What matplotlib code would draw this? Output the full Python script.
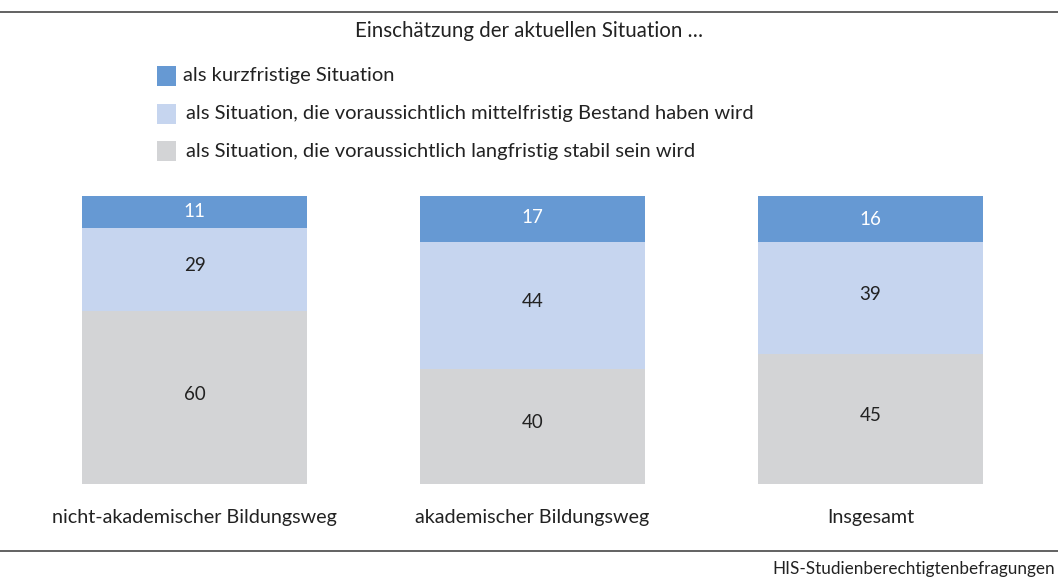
import matplotlib
matplotlib.use("Agg")
from matplotlib import pyplot as plt
from matplotlib.lines import Line2D
from matplotlib.patches import Rectangle

plt.rcParams['font.family'] = ['Lato', 'DejaVu Sans']

gruppen = ['nicht-akademischer Bildungsweg', 'akademischer Bildungsweg', 'Insgesamt']
kurz = [11, 17, 16]
mittel = [29, 44, 39]
lang = [60, 40, 45]
serien = ['als kurzfristige Situation',
          'als Situation, die voraussichtlich mittelfristig Bestand haben wird',
          'als Situation, die voraussichtlich langfristig stabil sein wird']
farben = ['#6699d3', '#c6d5ef', '#d3d4d6']
textfarben = ['white', '#222222', '#222222']

W, H = 1058, 578
fig = plt.figure(figsize=(W / 100, H / 100), dpi=100)

# bar axes: full width, y 196..484 px from top
ax = fig.add_axes([0, (H - 484) / H, 1, 288 / H])
unit = 338.0
x0 = 194.5
ax.set_xlim(-x0 / unit, (W - x0) / unit)
ax.set_ylim(0, 100)
ax.axis('off')

xs = range(len(gruppen))
breite = 225 / unit
unten = [0] * len(gruppen)
# stack from bottom: lang, mittel, kurz
for werte, farbe, tf in [(lang, farben[2], textfarben[2]),
                         (mittel, farben[1], textfarben[1]),
                         (kurz, farben[0], textfarben[0])]:
    ax.bar(xs, werte, breite, bottom=unten, color=farbe, linewidth=0)
    for i, v in enumerate(werte):
        ax.text(i, unten[i] + v / 2 + (0 if tf == 'white' else 1.2), str(v),
                ha='center', va='center', color=tf, fontsize=13.5)
    unten = [u + v for u, v in zip(unten, werte)]

for i, g in enumerate(gruppen):
    ax.text(i, -11.5, g, ha='center', va='center', fontsize=14.2, color='#222222')

# horizontal rules
for ypx in (12, 551):
    fig.add_artist(Line2D([0, 1], [1 - ypx / H, 1 - ypx / H], color='#555555',
                          linewidth=1.3, transform=fig.transFigure))

fig.text(0.5, 1 - 31 / H, 'Einschätzung der aktuellen Situation …', ha='center',
         va='center', fontsize=14.8, color='#222222')

# legend
for k, (name, farbe) in enumerate(zip(serien, farben)):
    yc = 76 + k * 37.5
    fig.add_artist(Rectangle((157 / W, 1 - (yc + 10) / H), 19 / W, 20 / H,
                             facecolor=farbe, edgecolor='none',
                             transform=fig.transFigure))
    fig.text((183 if k == 0 else 186) / W, 1 - yc / H, name, ha='left', va='center',
             fontsize=14.5, color='#222222')

fig.text(1055 / W, 1 - 569 / H, 'HIS-Studienberechtigtenbefragungen', ha='right',
         va='center', fontsize=12.3, color='#222222')

fig.savefig('out.png', dpi=100)
